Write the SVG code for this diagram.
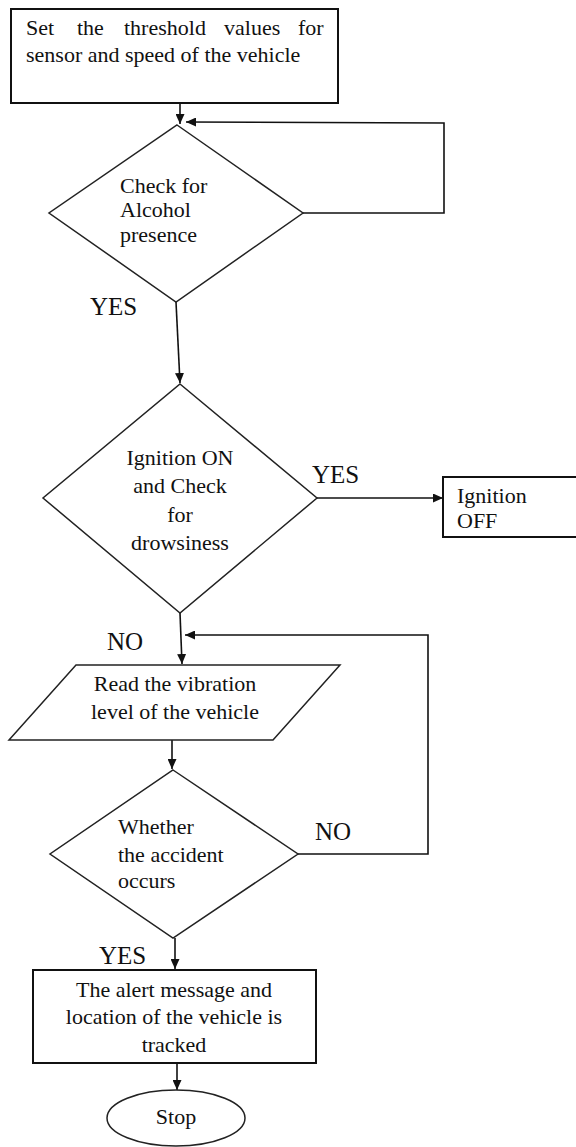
<svg xmlns="http://www.w3.org/2000/svg" width="576" height="1147" viewBox="0 0 576 1147">
<style>
text{font-family:'Liberation Serif','DejaVu Serif',serif;fill:#111}
.t{font-size:22px}
.lab{font-size:25px}
.box{fill:#fff;stroke:#111;stroke-width:2}
.shp{fill:#fff;stroke:#222;stroke-width:1.5}
.c{fill:none;stroke:#111;stroke-width:1.6}
</style>
<defs>
<marker id="ah" markerUnits="userSpaceOnUse" markerWidth="11" markerHeight="9" refX="10" refY="4.5" orient="auto">
<path d="M0,0 L10,4.5 L0,9 z" fill="#111"/>
</marker>
</defs>
<rect width="576" height="1147" fill="#fff"/>

<g id="connectors">
<line class="c" x1="180" y1="103" x2="180" y2="124" marker-end="url(#ah)"/>
<polyline class="c" points="303,213 444,213 444,123 186,122" marker-end="url(#ah)"/>
<line class="c" x1="176" y1="302" x2="180" y2="383" marker-end="url(#ah)"/>
<line class="c" x1="317" y1="498" x2="443" y2="498" marker-end="url(#ah)"/>
<line class="c" x1="180" y1="613" x2="182" y2="664" marker-end="url(#ah)"/>
<polyline class="c" points="298,854 428,854 428,635 185,635" marker-end="url(#ah)"/>
<line class="c" x1="172" y1="740" x2="172" y2="769" marker-end="url(#ah)"/>
<line class="c" x1="175" y1="938" x2="175" y2="969" marker-end="url(#ah)"/>
<line class="c" x1="177" y1="1063" x2="177" y2="1090" marker-end="url(#ah)"/>
</g>

<g id="n-threshold">
<rect class="box" x="11" y="9" width="327" height="94"/>
<text class="t" y="35"><tspan x="26">Set</tspan><tspan x="77">the</tspan><tspan x="124">threshold</tspan><tspan x="224">values</tspan><tspan x="298">for</tspan></text>
<text class="t" x="26" y="62">sensor and speed of the vehicle</text>
</g>

<g id="n-alcohol">
<polygon class="shp" points="177,125 303,213 176,302 49,213"/>
<text class="t" x="120" y="193">Check for</text>
<text class="t" x="120" y="217">Alcohol</text>
<text class="t" x="120" y="242">presence</text>
</g>
<text class="lab" x="90" y="315">YES</text>

<g id="n-ignition">
<polygon class="shp" points="180,384 317,498 180,613 43,498"/>
<text class="t" x="180" y="465" text-anchor="middle">Ignition ON</text>
<text class="t" x="180" y="493" text-anchor="middle">and Check</text>
<text class="t" x="180" y="522" text-anchor="middle">for</text>
<text class="t" x="180" y="550" text-anchor="middle">drowsiness</text>
</g>
<text class="lab" x="312" y="483">YES</text>

<g id="n-ignoff">
<rect class="box" x="443" y="477" width="150" height="60"/>
<text class="t" x="457" y="503">Ignition</text>
<text class="t" x="457" y="528">OFF</text>
</g>

<text class="lab" x="107" y="650">NO</text>

<g id="n-read">
<polygon class="shp" points="76,665 340,665 273,740 9,740"/>
<text class="t" x="175" y="691" text-anchor="middle">Read the vibration</text>
<text class="t" x="175" y="719" text-anchor="middle">level of the vehicle</text>
</g>

<g id="n-accident">
<polygon class="shp" points="173,770 298,854 173,938 50,854"/>
<text class="t" x="118" y="834">Whether</text>
<text class="t" x="118" y="862">the accident</text>
<text class="t" x="118" y="888">occurs</text>
</g>
<text class="lab" x="315" y="840">NO</text>
<text class="lab" x="99" y="964">YES</text>

<g id="n-alert">
<rect class="box" x="33" y="970" width="283" height="93"/>
<text class="t" x="174" y="997" text-anchor="middle">The alert message and</text>
<text class="t" x="174" y="1024" text-anchor="middle">location of the vehicle is</text>
<text class="t" x="174" y="1052" text-anchor="middle">tracked</text>
</g>

<g id="n-stop">
<ellipse class="shp" cx="176" cy="1118" rx="69" ry="28"/>
<text class="t" x="176" y="1124" text-anchor="middle">Stop</text>
</g>
</svg>
